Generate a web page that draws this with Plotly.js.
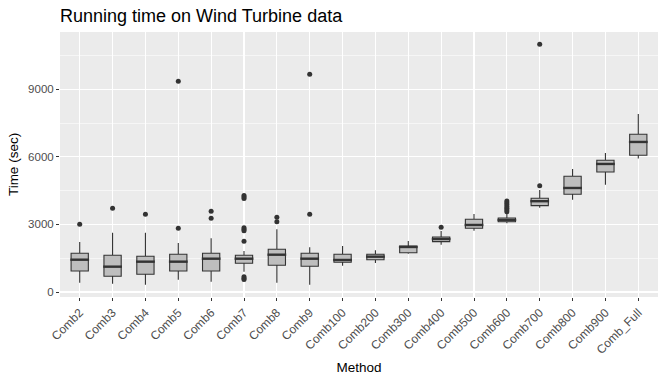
<!DOCTYPE html>
<html>
<head>
<meta charset="utf-8">
<script src="https://cdn.plot.ly/plotly-3.0.1.min.js"></script>
<style>
  html, body { margin: 0; padding: 0; background: #fff; }
  #chart { width: 666px; height: 384px; }
</style>
</head>
<body>
<div id="chart"></div>
<script>
// metodos y estadisticos (segundos)
const methods = ["Comb2", "Comb3", "Comb4", "Comb5", "Comb6", "Comb7", "Comb8", "Comb9",
  "Comb100", "Comb200", "Comb300", "Comb400", "Comb500", "Comb600", "Comb700",
  "Comb800", "Comb900", "Comb_Full"];
const lowVals = [413, 370, 326, 548, 459, 901, 413, 326, 1168, 1288, 1700, 2101, 2722, 3050, 3744, 4099, 4764, 5920];
const q1Vals = [932, 696, 785, 932, 932, 1274, 1185, 1140, 1318, 1434, 1745, 2235, 2827, 3121, 3832, 4338, 5328, 6069];
const medianVals = [1434, 1125, 1347, 1347, 1479, 1479, 1656, 1479, 1421, 1568, 1998, 2353, 2975, 3197, 4030, 4617, 5683, 6660];
const q3Vals = [1718, 1629, 1585, 1673, 1718, 1629, 1895, 1718, 1673, 1673, 2042, 2442, 3227, 3285, 4160, 5136, 5847, 7002];
const highVals = [2220, 2634, 2634, 2175, 2383, 1820, 2782, 1985, 2042, 1850, 2264, 2708, 3463, 3494, 4529, 5461, 6172, 7903];

// outliers
const outlierMethod = ["Comb2", "Comb3", "Comb4", "Comb5", "Comb5", "Comb6", "Comb6",
  "Comb7", "Comb7", "Comb7", "Comb7", "Comb7", "Comb7", "Comb7", "Comb7", "Comb7", "Comb7",
  "Comb8", "Comb8", "Comb9", "Comb9", "Comb400",
  "Comb600", "Comb600", "Comb600", "Comb600", "Comb600", "Comb600", "Comb600",
  "Comb700", "Comb700"];
const outlierVals = [3005, 3716, 3449, 2827, 9355, 3272, 3582,
  4280, 4220, 4150, 2850, 2780, 2720, 2250, 680, 610, 560,
  3123, 3316, 3449, 9666, 2871,
  3565, 3640, 3720, 3800, 3880, 3960, 4040,
  4720, 11000];

const yTicks = [0, 3000, 6000, 9000];
const yMinor = [1500, 4500, 7500, 10500];

const dark = "#333333";

const boxes = {
  type: "box",
  x: methods,
  q1: q1Vals,
  median: medianVals,
  q3: q3Vals,
  lowerfence: lowVals,
  upperfence: highVals,
  boxpoints: false,
  whiskerwidth: 0,
  fillcolor: "#BEBEBE",
  line: { color: dark, width: 1.1 },
  hoverinfo: "skip",
  showlegend: false
};

// mediana gruesa como en ggplot
const medians = {
  type: "scatter",
  mode: "markers",
  x: methods,
  y: medianVals,
  marker: { symbol: "line-ew", size: 13.4, line: { color: dark, width: 2.4 } },
  hoverinfo: "skip",
  showlegend: false
};

const outliers = {
  type: "scatter",
  mode: "markers",
  x: outlierMethod,
  y: outlierVals,
  marker: { symbol: "circle", size: 5, color: dark },
  hoverinfo: "skip",
  showlegend: false
};

const layout = {
  width: 666,
  height: 384,
  margin: { l: 60, r: 8, t: 32, b: 87 },
  paper_bgcolor: "#FFFFFF",
  plot_bgcolor: "#EBEBEB",
  font: { family: "Liberation Sans, Arial, sans-serif", color: "#000" },
  boxgap: 0.25,
  title: {
    text: "Running time on Wind Turbine data",
    font: { size: 18, color: "#000" },
    xref: "paper", x: 0, xanchor: "left",
    yref: "container", y: 1 - 16 / 384, yanchor: "middle"
  },
  xaxis: {
    type: "category",
    categoryorder: "array",
    categoryarray: methods,
    range: [-0.6, methods.length - 0.4],
    showgrid: true,
    gridcolor: "#FFFFFF",
    gridwidth: 1.1,
    zeroline: false,
    showline: false,
    ticks: "outside",
    ticklen: 3,
    tickwidth: 1,
    tickcolor: dark,
    tickangle: -45,
    tickfont: { size: 12, color: "#4D4D4D" },
    title: { text: "Method", font: { size: 13.5, color: "#000" }, standoff: 6 },
    fixedrange: true
  },
  yaxis: {
    range: [-222, 11540],
    tickvals: yTicks,
    ticktext: yTicks.map(String),
    showgrid: true,
    gridcolor: "#FFFFFF",
    gridwidth: 1.1,
    minor: { tickvals: yMinor, showgrid: true, gridcolor: "#FFFFFF", gridwidth: 0.55, ticks: "" },
    zeroline: false,
    showline: false,
    ticks: "outside",
    ticklen: 3,
    tickwidth: 1,
    tickcolor: dark,
    tickfont: { size: 11.5, color: "#4D4D4D" },
    title: { text: "Time (sec)", font: { size: 13.5, color: "#000" }, standoff: 6 },
    fixedrange: true
  }
};

Plotly.newPlot("chart", [boxes, medians, outliers], layout, { staticPlot: true, displayModeBar: false });
</script>
</body>
</html>
